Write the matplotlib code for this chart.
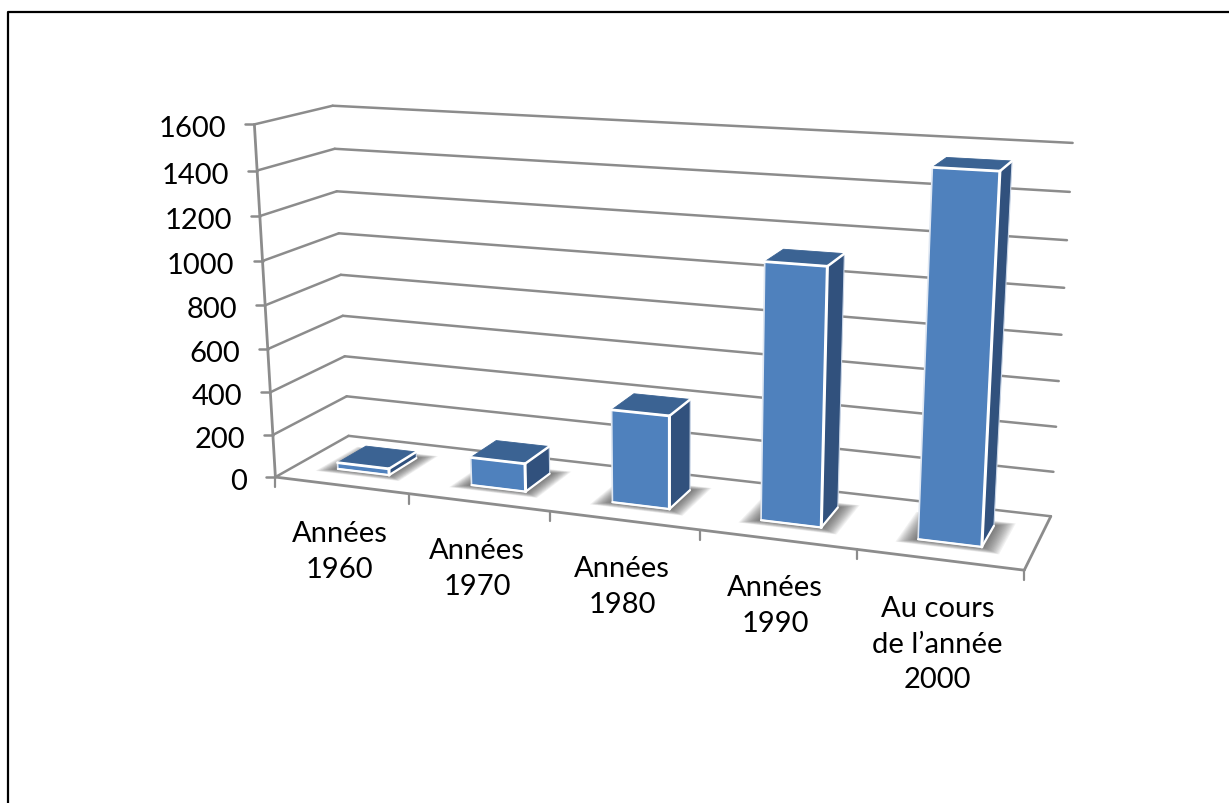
import numpy as np
from matplotlib import pyplot as plt
from matplotlib.patches import Polygon

# chart data
categories = ["Années\n1960", "Années\n1970", "Années\n1980", "Années\n1990", "Au cours\nde l’année\n2000"]
values = [30, 130, 420, 1120, 1545]
yticks = [0, 200, 400, 600, 800, 1000, 1200, 1400, 1600]
ymax = 1600.0

plt.rcParams['font.family'] = ['Lato', 'DejaVu Sans']

# camera: corners of the chart box, (category, value/ymax, depth) -> pixel
world = [(0,0,0),(0,1,0),(0,0,1),(0,1,1),(5,0,1),(5,1,1),(5,0,0)]
pixel = [(275,478),(255,125),(349,437),(332,107),(1051,516.7),(1072.7,144),(1024,571.7)]

A = []
b = []
for (x,y,z),(px,py) in zip(world,pixel):
    A.append([x,y,z,1,0,0,0,0,-px*x,-px*y,-px*z])
    b.append(px)
    A.append([0,0,0,0,x,y,z,1,-py*x,-py*y,-py*z])
    b.append(py)
m = np.linalg.lstsq(np.array(A,float),np.array(b,float),rcond=None)[0]
P = np.append(m,1).reshape(3,4)

def proj(u,v,w):
    # u category position, v data value, w depth 0 front .. 1 back
    q = P @ np.array([u,v/ymax,w,1.0])
    return q[0]/q[2], q[1]/q[2]

fig = plt.figure(figsize=(12.29,8.04),dpi=100)
ax = fig.add_axes([0,0,1,1])
ax.set_xlim(0,1229)
ax.set_ylim(804,0)
ax.axis('off')

grid = '#8c8c8c'

def line(p1,p2,lw=1.8,col=grid,z=1):
    ax.plot([p1[0],p2[0]],[p1[1],p2[1]],color=col,lw=lw,zorder=z,solid_capstyle='round')

# page frame, only top and left are in the picture
ax.plot([7.5,7.5,1229],[804,13,13],color='black',lw=1.6,zorder=10)

# gridlines on side and back wall
for t in yticks:
    line(proj(0,t,0),proj(0,t,1))
    line(proj(0,t,1),proj(5,t,1))
    x,y = proj(0,t,0)
    line((x-9,y),(x,y))
    ax.text(x-28,y+4,str(t),ha='right',va='center',fontsize=21,color='black')

# axes and floor
line(proj(0,0,0),proj(0,ymax,0),lw=2)
line(proj(0,0,0),proj(5,0,0),lw=2)
line(proj(5,0,0),proj(5,0,1),lw=2)
for i in range(6):
    x,y = proj(i,0,0)
    line((x,y),(x,y+10),lw=1.6)

# category labels
for i,lab in enumerate(categories):
    x,y = proj(i+0.5,0,0)
    ax.text(x-2,y+35,lab,ha='center',va='top',fontsize=21,color='black',linespacing=1.47)

hw = 0.195
w0, w1 = 0.3, 0.70

# bars
for i,val in enumerate(values):
    c = i+0.5
    ul, ur = c-hw, c+hw
    # soft shadow on the floor
    for k in range(16):
        gu = 0.008*k
        g = 0.006*k
        pts = [proj(ul-gu,0,w0-g),proj(ur+gu,0,w0-g),proj(ur+gu,0,w1+g),proj(ul-gu,0,w1+g)]
        ax.add_patch(Polygon(pts,closed=True,fc='#404040',ec='none',alpha=0.07,zorder=2))
    # right side
    side = [proj(ur,0,w0),proj(ur,val,w0),proj(ur,val,w1),proj(ur,0,w1)]
    ax.add_patch(Polygon(side,closed=True,fc='#31517d',ec='#c9d5e6',lw=0.8,zorder=3))
    # top
    top = [proj(ul,val,w0),proj(ur,val,w0),proj(ur,val,w1),proj(ul,val,w1)]
    ax.add_patch(Polygon(top,closed=True,fc='#3b6393',ec='#3b6393',lw=0.6,zorder=3))
    # front
    front = [proj(ul,0,w0),proj(ur,0,w0),proj(ur,val,w0),proj(ul,val,w0)]
    ax.add_patch(Polygon(front,closed=True,fc='#4f81bd',ec='#dfe7f2',lw=1.2,zorder=4))
    # white bevel edges
    line(proj(ul,val,w0),proj(ur,val,w0),lw=2,col='white',z=5)
    line(proj(ur,0,w0),proj(ur,val,w0),lw=2.2,col='white',z=5)
    line(proj(ur,val,w0),proj(ur,val,w1),lw=1.8,col='white',z=5)
    line(proj(ul,0,w0),proj(ur,0,w0),lw=1.6,col='white',z=5)
    line(proj(ur,0,w0),proj(ur,0,w1),lw=1.6,col='white',z=5)

fig.savefig("out.png",dpi=100)
